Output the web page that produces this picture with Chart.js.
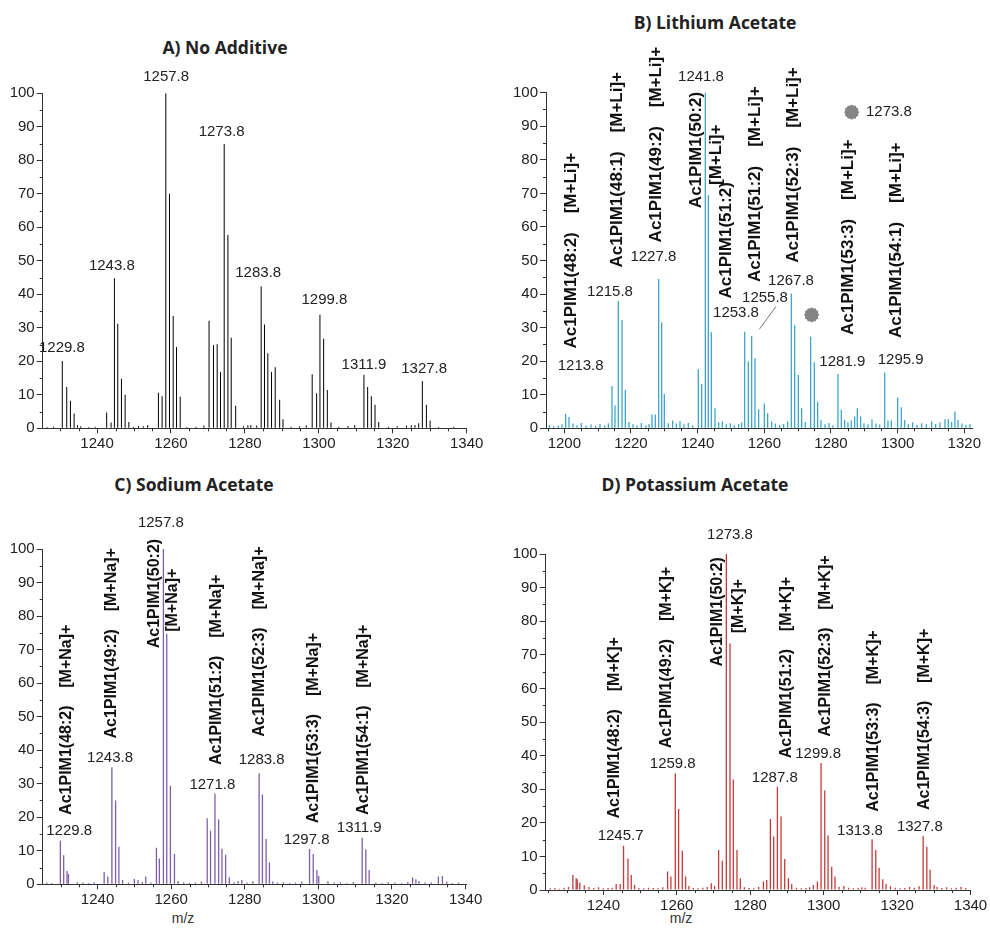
<!DOCTYPE html>
<html>
<head>
<meta charset="utf-8">
<script src="https://cdn.jsdelivr.net/npm/chart.js@4.4.1/dist/chart.umd.min.js"></script>
<style>
  body { margin: 0; background: #fff; width: 990px; height: 932px; position: relative; overflow: hidden;
         font-family: "Liberation Sans", Arial, sans-serif; }
  canvas { position: absolute; }
  .title { position: absolute; transform: translate(-50%, -50%); font-family: "Open Sans", sans-serif;
           font-weight: 700; font-size: 17.5px; color: #222; white-space: nowrap; }
  .axis-title { position: absolute; transform: translate(-50%, -50%); font-size: 14px; color: #333; }
</style>
</head>
<body>
<div class="title" style="left:225px;top:47px">A) No Additive</div>
<div class="title" style="left:715px;top:22px">B) Lithium Acetate</div>
<div class="title" style="left:194px;top:484px">C) Sodium Acetate</div>
<div class="title" style="left:695px;top:484px">D) Potassium Acetate</div>
<div class="axis-title" style="left:183px;top:918px">m/z</div>
<div class="axis-title" style="left:681px;top:918px">m/z</div>

<canvas id="chartA" width="495" height="466" style="left:0;top:0"></canvas>
<canvas id="chartB" width="495" height="466" style="left:495px;top:0"></canvas>
<canvas id="chartC" width="495" height="466" style="left:0;top:466px"></canvas>
<canvas id="chartD" width="495" height="466" style="left:495px;top:466px"></canvas>

<script>
// --- A) No Additive ---
const aPeakMz = [1230.6, 1231.8, 1232.8, 1233.8, 1234.7, 1242.6, 1243.8, 1244.7, 1245.6, 1246.6, 1247.6, 1248.6, 1253.7,
  1256.6, 1257.6, 1258.6, 1259.6, 1260.6, 1261.5, 1262.5, 1270.3, 1271.5, 1272.5, 1273.4, 1274.4, 1275.4, 1276.3, 1277.5,
  1281.6, 1283.2, 1284.4, 1285.3, 1286.2, 1287.2, 1288.2, 1289.4, 1290.3, 1298.2, 1299.4, 1300.3, 1301.3, 1302.3, 1303.3,
  1312.2, 1313.2, 1314.2, 1315.2, 1316.2, 1326.0, 1327.0, 1328.0, 1329.1, 1330.1];
const aPeakInt = [20.1, 12.3, 8.2, 4.4, 0.9, 4.7, 1.7, 44.8, 31.2, 14.8, 10.0, 1.9, 1.0,
  10.6, 9.6, 100, 70.0, 33.5, 24.3, 9.4, 32.1, 24.9, 25.1, 16.8, 84.9, 57.7, 27.0, 6.7,
  1.0, 0.8, 42.3, 31.0, 22.4, 16.8, 18.2, 8.5, 2.7, 16.1, 10.5, 33.9, 26.7, 11.4, 1.7,
  16.0, 12.3, 9.6, 7.0, 1.9, 1.0, 1.5, 14.1, 7.0, 2.3];
const aNoiseMz = [1226.5, 1228.2, 1235.6, 1237.8, 1239.5, 1249.8, 1251.2, 1252.5, 1264.3, 1266.8, 1268.9, 1279.6, 1280.8,
  1292.5, 1294.8, 1296.6, 1305.4, 1307.9, 1309.7, 1318.8, 1321.2, 1323.7, 1325.0, 1332.4, 1336.5];
const aNoiseInt = [0.4, 0.5, 0.6, 0.4, 0.5, 0.5, 0.7, 0.6, 0.4, 0.5, 0.8, 0.6, 0.9,
  0.5, 0.6, 0.9, 0.5, 0.7, 1.0, 0.5, 0.6, 0.8, 0.9, 0.4, 0.5];
const aMassLabels = [['1229.8', 1230.5, 24.0], ['1243.8', 1244.0, 48.5], ['1257.8', 1258.7, 104.9], ['1273.8', 1273.7, 88.5],
  ['1283.8', 1283.6, 46.3], ['1299.8', 1301.5, 38.3], ['1311.9', 1312.2, 18.9], ['1327.8', 1328.5, 17.6]];

// --- B) Lithium Acetate ---
const bPeakMz = [1200.4, 1201.4, 1214.3, 1215.2, 1216.2, 1217.3, 1218.3, 1219.4, 1226.3, 1227.3, 1228.3, 1229.2, 1230.0,
  1231.2, 1232.5, 1240.2, 1241.2, 1242.3, 1243.2, 1244.1, 1245.2, 1254.1, 1255.2, 1256.2, 1257.2, 1258.3, 1260.0, 1261.0,
  1262.2, 1267.0, 1268.1, 1269.1, 1270.2, 1271.2, 1273.9, 1275.0, 1276.0, 1277.0, 1282.1, 1283.1, 1284.1, 1286.1, 1287.1,
  1287.9, 1288.9, 1296.1, 1297.1, 1298.1, 1300.0, 1301.1, 1302.1, 1310.2, 1314.2, 1315.2, 1317.2, 1318.1];
const bPeakInt = [4.3, 3.4, 12.6, 6.8, 37.9, 32.3, 11.5, 1.9, 4.1, 4.1, 44.5, 31.5, 10.2,
  1.5, 2.3, 17.6, 13.2, 100, 69.5, 28.6, 6.0, 28.8, 19.9, 27.5, 20.9, 5.7, 7.4, 4.5,
  2.0, 2.0, 40.2, 30.6, 15.9, 6.0, 27.3, 19.7, 7.9, 2.5, 16.2, 5.5, 2.5, 2.3, 3.5,
  6.0, 3.5, 16.6, 2.3, 2.3, 9.2, 6.3, 2.5, 2.0, 2.7, 2.7, 5.0, 2.5];
const bNoiseMz = [1195.5, 1196.8, 1198.2, 1199.3, 1202.6, 1203.8, 1205.1, 1206.5, 1208.0, 1209.4, 1210.7, 1212.1, 1213.2,
  1220.6, 1221.8, 1223.1, 1224.5, 1225.4, 1233.6, 1234.7, 1235.9, 1237.2, 1238.5, 1246.3, 1247.4, 1248.6, 1249.8, 1251.0,
  1252.3, 1253.2, 1263.3, 1264.6, 1265.8, 1272.3, 1278.2, 1279.4, 1280.6, 1285.1, 1289.9, 1291.1, 1292.3, 1293.5, 1294.6,
  1303.2, 1304.5, 1305.8, 1307.2, 1308.6, 1311.4, 1312.7, 1316.2, 1319.3, 1320.5, 1321.7];
const bNoiseInt = [1.0, 0.6, 0.8, 1.2, 1.4, 0.9, 1.6, 0.8, 1.1, 0.7, 1.3, 0.9, 1.5,
  1.2, 0.8, 1.6, 0.9, 1.3, 1.4, 2.1, 1.2, 1.6, 0.9, 1.8, 2.0, 1.2, 1.5, 0.9,
  1.3, 1.7, 1.4, 1.0, 1.3, 1.9, 1.2, 1.6, 0.9, 1.8, 1.5, 1.2, 2.6, 1.4, 1.1,
  1.2, 1.8, 1.0, 1.5, 1.2, 1.3, 1.7, 1.9, 1.4, 1.0, 1.2];
const bMassLabels = [['1213.8', 1204.9, 18.6], ['1215.8', 1213.7, 40.7], ['1227.8', 1226.7, 51.0], ['1241.8', 1241.0, 104.7],
  ['1253.8', 1251.5, 34.4], ['1255.8', 1260.2, 39.0], ['1267.8', 1268.0, 44.0], ['1281.9', 1283.4, 19.8], ['1295.9', 1300.9, 20.4]];
const bSpecies = [['Ac1PIM1(48:2)    [M+Li]+', 1202.2, 23.8], ['Ac1PIM1(48:1)    [M+Li]+', 1216.0, 47.9],
  ['Ac1PIM1(49:2)    [M+Li]+', 1227.7, 55.4], ['Ac1PIM1(50:2)', 1239.7, 65.6], ['[M+Li]+', 1245.7, 72.5],
  ['Ac1PIM1(51:2)', 1248.5, 38.7], ['Ac1PIM1(51:2)    [M+Li]+', 1257.2, 43.6], ['Ac1PIM1(52:3)    [M+Li]+', 1268.6, 49.3],
  ['Ac1PIM1(53:3)    [M+Li]+', 1285.1, 27.8], ['Ac1PIM1(54:1)    [M+Li]+', 1299.5, 26.9]];
const bDots = [[1274.2, 33.8], [1286.2, 94.2]];
const bDotLabel = ['1273.8', 1290.5, 94.2];
const bLeader = [[1263.5, 36.3], [1258.5, 29.5]];

// --- C) Sodium Acetate ---
const cPeakMz = [1229.9, 1230.8, 1231.7, 1232.1, 1241.8, 1242.8, 1243.9, 1244.9, 1245.8, 1246.8, 1250.0, 1251.0, 1253.1,
  1256.0, 1256.8, 1257.9, 1258.8, 1259.8, 1260.9, 1261.9, 1269.8, 1270.7, 1271.9, 1272.9, 1273.8, 1274.8, 1275.8,
  1278.2, 1279.2, 1283.9, 1284.8, 1285.8, 1286.7, 1287.6, 1297.6, 1298.6, 1299.6, 1300.1, 1311.9, 1312.9, 1313.8,
  1325.6, 1326.5, 1327.3, 1332.6, 1333.7, 1334.9];
const cPeakInt = [13.0, 8.7, 4.0, 3.1, 3.7, 2.3, 34.9, 25.0, 11.2, 1.3, 1.6, 1.3, 2.3,
  10.9, 7.7, 100, 74.7, 29.4, 9.0, 1.0, 19.7, 16.0, 27.1, 19.4, 10.6, 8.8, 2.1,
  1.0, 1.3, 33.1, 26.8, 13.5, 6.5, 0.8, 10.5, 9.0, 4.3, 2.5, 13.9, 10.4, 4.3,
  2.0, 1.5, 1.0, 2.3, 2.5, 0.8];
const cNoiseMz = [1226.2, 1227.5, 1234.5, 1236.0, 1237.6, 1239.1, 1248.4, 1252.2, 1254.5, 1263.4, 1265.0, 1266.6, 1268.2,
  1277.1, 1280.6, 1282.2, 1288.9, 1290.5, 1292.2, 1293.8, 1295.5, 1302.6, 1304.3, 1306.0, 1307.7, 1309.5,
  1315.6, 1317.3, 1319.0, 1320.8, 1322.6, 1324.3, 1329.0, 1330.7, 1336.4, 1338.1];
const cNoiseInt = [0.5, 0.4, 0.6, 0.5, 0.4, 0.6, 0.5, 0.7, 0.5, 0.6, 0.4, 0.5, 0.8,
  0.6, 0.5, 0.9, 0.5, 0.6, 0.4, 0.5, 0.8, 0.9, 0.5, 0.6, 0.4, 0.7,
  0.5, 0.4, 0.6, 0.5, 0.4, 0.7, 0.6, 0.5, 0.4, 0.5];
const cMassLabels = [['1229.8', 1232.3, 15.9], ['1243.8', 1243.4, 37.8], ['1257.8', 1257.2, 107.8], ['1271.8', 1271.2, 29.6],
  ['1283.8', 1284.6, 37.1], ['1297.8', 1296.8, 13.4], ['1311.9', 1311.1, 16.9]];
const cSpecies = [['Ac1PIM1(48:2)    [M+Na]+', 1231.6, 20.7], ['Ac1PIM1(49:2)    [M+Na]+', 1243.8, 43.5],
  ['Ac1PIM1(50:2)', 1255.6, 70.4], ['[M+Na]+', 1260.4, 75.3], ['Ac1PIM1(51:2)    [M+Na]+', 1272.4, 35.6],
  ['Ac1PIM1(52:3)    [M+Na]+', 1284.1, 44.0], ['Ac1PIM1(53:3)    [M+Na]+', 1298.6, 18.2], ['Ac1PIM1(54:1)    [M+Na]+', 1312.2, 20.7]];

// --- D) Potassium Acetate ---
const dPeakMz = [1231.7, 1232.6, 1232.9, 1233.6, 1243.5, 1244.6, 1245.5, 1246.7, 1247.6, 1248.5, 1257.5, 1258.4, 1259.6,
  1260.5, 1261.5, 1262.4, 1263.3, 1269.4, 1271.4, 1272.4, 1273.5, 1274.5, 1275.4, 1276.4, 1277.3, 1283.6, 1284.5, 1285.5,
  1286.4, 1287.4, 1288.4, 1289.4, 1290.4, 1291.3, 1297.2, 1298.3, 1299.3, 1300.3, 1301.2, 1302.2, 1303.1, 1311.3, 1313.2,
  1314.2, 1315.1, 1316.1, 1317.0, 1327.1, 1328.1, 1329.0, 1330.1, 1330.9];
const dPeakInt = [4.5, 3.5, 3.2, 2.2, 1.8, 1.8, 13.2, 9.4, 4.5, 1.5, 5.5, 4.0, 34.7,
  24.1, 11.7, 4.0, 1.2, 2.0, 11.9, 8.7, 100, 73.4, 32.9, 11.9, 3.5, 2.5, 3.0, 21.1,
  15.9, 30.7, 21.9, 9.2, 3.5, 1.8, 1.5, 2.5, 37.8, 29.6, 16.2, 6.9, 4.0, 0.7, 15.1,
  11.9, 6.6, 3.2, 1.8, 16.1, 12.9, 6.0, 1.5, 1.0];
const dNoiseMz = [1225.5, 1226.8, 1228.0, 1229.3, 1230.5, 1234.8, 1236.1, 1237.4, 1238.7, 1240.0, 1241.3, 1242.4,
  1249.7, 1251.0, 1252.3, 1253.6, 1254.9, 1256.2, 1264.5, 1265.8, 1267.1, 1268.3, 1270.3, 1278.4, 1279.7, 1281.0, 1282.3,
  1292.6, 1293.9, 1295.2, 1296.2, 1304.2, 1305.5, 1306.8, 1308.1, 1309.4, 1310.4, 1318.2, 1319.5, 1320.8, 1322.1,
  1323.4, 1324.7, 1326.0, 1332.2, 1333.5, 1334.8, 1336.1, 1337.4, 1338.7];
const dNoiseInt = [0.5, 0.6, 0.4, 0.7, 0.9, 1.4, 0.9, 0.6, 0.8, 0.5, 0.6, 0.7,
  0.6, 0.5, 0.7, 0.6, 0.5, 0.8, 0.6, 0.5, 0.7, 0.9, 1.2, 0.8, 0.6, 0.5, 0.9,
  0.7, 0.5, 0.6, 0.8, 0.9, 1.2, 0.7, 0.5, 0.6, 0.8, 1.1, 0.7, 0.5, 0.6,
  0.9, 0.7, 1.1, 0.6, 0.8, 0.5, 0.7, 0.9, 0.6];
const dMassLabels = [['1245.7', 1244.7, 16.1], ['1259.8', 1258.9, 37.4], ['1273.8', 1274.5, 105.7], ['1287.8', 1286.7, 33.5],
  ['1299.8', 1298.5, 40.4], ['1313.8', 1309.9, 17.6], ['1327.8', 1326.2, 18.8]];
const dSpecies = [['Ac1PIM1(48:2)    [M+K]+', 1243.2, 21.3], ['Ac1PIM1(49:2)    [M+K]+', 1257.3, 42.2],
  ['Ac1PIM1(50:2)', 1271.0, 66.5], ['[M+K]+', 1276.8, 76.4], ['Ac1PIM1(51:2)    [M+K]+', 1290.0, 39.2],
  ['Ac1PIM1(52:3)    [M+K]+', 1300.4, 45.6], ['Ac1PIM1(53:3)    [M+K]+', 1313.5, 23.3], ['Ac1PIM1(54:3)    [M+K]+', 1327.6, 23.8]];

const axisColor = '#333';
const textColor = '#222';
const tickFont = { family: '"Liberation Sans", Arial, sans-serif', size: 15 };

// labels, minor ticks and markers, placed through the chart's own scales
function annotations(cfg) {
  return {
    id: 'annotations',
    afterDatasetsDraw(chart) {
      const { ctx, scales: { x, y } } = chart;
      ctx.save();
      ctx.strokeStyle = axisColor;
      ctx.lineWidth = 1;
      ctx.beginPath();
      for (let v = Math.ceil(x.min / 5) * 5; v <= x.max; v += 5) {
        if (v % 20 === 0) continue;
        const px = Math.round(x.getPixelForValue(v)) + 0.5;
        ctx.moveTo(px, y.bottom);
        ctx.lineTo(px, y.bottom + 3);
      }
      for (let v = 5; v < 100; v += 10) {
        const py = Math.round(y.getPixelForValue(v)) + 0.5;
        ctx.moveTo(x.left - 3, py);
        ctx.lineTo(x.left, py);
      }
      ctx.stroke();

      if (cfg.leader) {
        ctx.strokeStyle = '#777';
        ctx.beginPath();
        ctx.moveTo(x.getPixelForValue(cfg.leader[0][0]), y.getPixelForValue(cfg.leader[0][1]));
        ctx.lineTo(x.getPixelForValue(cfg.leader[1][0]), y.getPixelForValue(cfg.leader[1][1]));
        ctx.stroke();
      }
      (cfg.dots || []).forEach(([m, v]) => {
        const cx = x.getPixelForValue(m), cy = y.getPixelForValue(v);
        ctx.fillStyle = '#858585';
        ctx.beginPath();
        for (let i = 0; i < 24; i++) {
          const a = i * Math.PI / 12, r = i % 2 ? 6.6 : 7.6;
          ctx.lineTo(cx + r * Math.cos(a), cy + r * Math.sin(a));
        }
        ctx.closePath();
        ctx.fill();
      });

      ctx.fillStyle = textColor;
      ctx.font = '15px "Liberation Sans", Arial, sans-serif';
      ctx.textAlign = 'center';
      ctx.textBaseline = 'middle';
      cfg.massLabels.forEach(([t, m, v]) => ctx.fillText(t, x.getPixelForValue(m), y.getPixelForValue(v)));
      if (cfg.dotLabel) {
        ctx.textAlign = 'left';
        ctx.fillText(cfg.dotLabel[0], x.getPixelForValue(cfg.dotLabel[1]), y.getPixelForValue(cfg.dotLabel[2]));
      }

      ctx.fillStyle = '#111';
      ctx.font = 'bold ' + cfg.speciesSize + 'px "Liberation Sans", Arial, sans-serif';
      ctx.textAlign = 'left';
      (cfg.species || []).forEach(([t, m, v]) => {
        ctx.save();
        ctx.translate(x.getPixelForValue(m), y.getPixelForValue(v));
        ctx.rotate(-Math.PI / 2);
        ctx.fillText(t, 0, 0);
        ctx.restore();
      });
      ctx.restore();
    }
  };
}

function makeChart(canvasId, cfg) {
  const canvas = document.getElementById(canvasId);
  const W = canvas.width, H = canvas.height;
  const toBars = (mz, ints) => mz.map((m, i) => ({ x: m, y: ints[i] }));
  const stick = { backgroundColor: cfg.color, barThickness: cfg.thick, grouped: false, inflateAmount: 0, borderWidth: 0 };
  return new Chart(canvas, {
    type: 'bar',
    data: {
      datasets: [
        { data: toBars(cfg.peakMz, cfg.peakInt), ...stick },
        { data: toBars(cfg.noiseMz, cfg.noiseInt), ...stick }
      ]
    },
    options: {
      responsive: false,
      animation: false,
      devicePixelRatio: 1,
      layout: { padding: { left: 0, top: cfg.area.t, right: W - cfg.area.r, bottom: 0 } },
      plugins: { legend: { display: false }, tooltip: { enabled: false } },
      scales: {
        x: {
          type: 'linear', min: cfg.xMin, max: cfg.xMax, offset: false,
          grid: { drawOnChartArea: false, offset: false, tickLength: 5, color: axisColor },
          border: { color: axisColor },
          ticks: { stepSize: 20, includeBounds: false, autoSkip: false, maxRotation: 0, padding: 2,
                   color: textColor, font: tickFont, callback: v => String(v) },
          afterFit: s => { s.height = H - cfg.area.b; }
        },
        y: {
          min: 0, max: 100,
          grid: { drawOnChartArea: false, tickLength: 6, color: axisColor },
          border: { color: axisColor },
          ticks: { stepSize: 10, padding: 2, color: textColor, font: tickFont },
          afterFit: s => { s.width = cfg.area.l; }
        }
      }
    },
    plugins: [annotations(cfg)]
  });
}

window.addEventListener('DOMContentLoaded', () => {
  makeChart('chartA', {
    area: { l: 42.7, r: 466.7, t: 93.3, b: 428.3 }, xMin: 1225.3, xMax: 1340,
    color: '#000', thick: 1, peakMz: aPeakMz, peakInt: aPeakInt, noiseMz: aNoiseMz, noiseInt: aNoiseInt,
    massLabels: aMassLabels, speciesSize: 16
  });
  makeChart('chartB', {
    area: { l: 51, r: 477.3, t: 92.7, b: 428.3 }, xMin: 1194.5, xMax: 1322.4,
    color: '#3ea5cb', thick: 1.3, peakMz: bPeakMz, peakInt: bPeakInt, noiseMz: bNoiseMz, noiseInt: bNoiseInt,
    massLabels: bMassLabels, species: bSpecies, speciesSize: 17, dots: bDots, dotLabel: bDotLabel, leader: bLeader
  });
  makeChart('chartC', {
    area: { l: 42.7, r: 466.7, t: 83, b: 418.3 }, xMin: 1225.1, xMax: 1340.3,
    color: '#7d60a9', thick: 1.3, peakMz: cPeakMz, peakInt: cPeakInt, noiseMz: cNoiseMz, noiseInt: cNoiseInt,
    massLabels: cMassLabels, species: cSpecies, speciesSize: 16
  });
  makeChart('chartD', {
    area: { l: 50.7, r: 475.5, t: 88, b: 424 }, xMin: 1224.3, xMax: 1340,
    color: '#c43a3c', thick: 1.3, peakMz: dPeakMz, peakInt: dPeakInt, noiseMz: dNoiseMz, noiseInt: dNoiseInt,
    massLabels: dMassLabels, species: dSpecies, speciesSize: 16
  });
});
</script>
</body>
</html>
